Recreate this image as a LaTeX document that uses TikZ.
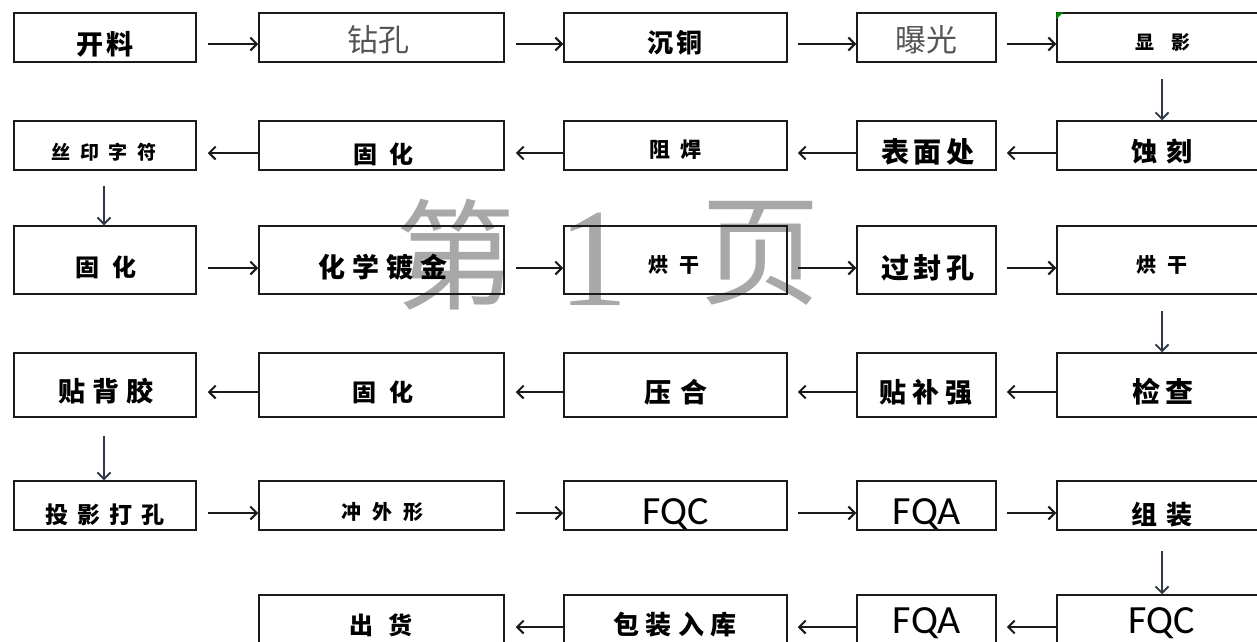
\documentclass[tikz,border=0pt]{standalone}
\usepackage{fontspec}
\setmainfont{Noto Sans CJK SC}
\newfontfamily\latfont{Carlito}
\newfontfamily\wmserif{Liberation Serif}
\usetikzlibrary{arrows.meta}
\newcommand\fsz[1]{\fontsize{#1}{#1}\selectfont}
\newcommand\cgap[1]{\hspace{#1em}}
\definecolor{linec}{HTML}{1A1A1A}
\definecolor{darrc}{HTML}{2E3A46}
\definecolor{wmgray}{HTML}{A8A8A8}
\definecolor{songgray}{HTML}{555555}
\tikzset{
  box/.style={draw=linec, line width=1.5pt, inner sep=0pt},
  txt/.style={inner sep=0pt, text=black, font=\bfseries},
  song/.style={inner sep=0pt, text=songgray, font=\mdseries},
  arr/.style={draw=linec, line width=2.1pt, -{Straight Barb[length=6.5pt,width=13pt,line width=2pt]}},
  darr/.style={draw=darrc, line width=1.9pt, -{Straight Barb[length=6.5pt,width=13pt,line width=1.9pt]}},
  wm/.style={inner sep=0pt, text=wmgray}
}
\begin{document}
\begin{tikzpicture}[x=1pt,y=-1pt]
\useasboundingbox (0,0) rectangle (1257,641);
\clip (0,0) rectangle (1257,641);
\fill[white] (0,0) rectangle (1257,641);

% watermark
\node[wm] (wm1) at (455,255) {\fsz{120}第};
\node[wm] (wm2) at (593,259) {\wmserif\fsz{140}1};
\node[wm] (wm3) at (760,253) {\fsz{120}页};

% row 1
\node[box, minimum width=182pt, minimum height=49pt] (b11) at (105,37.5) {};
\node[box, minimum width=245pt, minimum height=49pt] (b12) at (381.5,37.5) {};
\node[box, minimum width=223pt, minimum height=49pt] (b13) at (675.5,37.5) {};
\node[box, minimum width=139pt, minimum height=49pt] (b14) at (926.5,37.5) {};
\node[box, minimum width=210pt, minimum height=49pt] (b15) at (1162,37.5) {};
% row 2
\node[box, minimum width=182pt, minimum height=49pt] (b21) at (105,145.5) {};
\node[box, minimum width=245pt, minimum height=49pt] (b22) at (381.5,145.5) {};
\node[box, minimum width=223pt, minimum height=49pt] (b23) at (675.5,145.5) {};
\node[box, minimum width=139pt, minimum height=49pt] (b24) at (926.5,145.5) {};
\node[box, minimum width=210pt, minimum height=49pt] (b25) at (1162,145.5) {};
% row 3
\node[box, minimum width=182pt, minimum height=68pt] (b31) at (105,260) {};
\node[box, minimum width=245pt, minimum height=68pt] (b32) at (381.5,260) {};
\node[box, minimum width=223pt, minimum height=68pt] (b33) at (675.5,260) {};
\node[box, minimum width=139pt, minimum height=68pt] (b34) at (926.5,260) {};
\node[box, minimum width=210pt, minimum height=68pt] (b35) at (1162,260) {};
% row 4
\node[box, minimum width=182pt, minimum height=64pt] (b41) at (105,385) {};
\node[box, minimum width=245pt, minimum height=64pt] (b42) at (381.5,385) {};
\node[box, minimum width=223pt, minimum height=64pt] (b43) at (675.5,385) {};
\node[box, minimum width=139pt, minimum height=64pt] (b44) at (926.5,385) {};
\node[box, minimum width=210pt, minimum height=64pt] (b45) at (1162,385) {};
% row 5
\node[box, minimum width=182pt, minimum height=49pt] (b51) at (105,505.5) {};
\node[box, minimum width=245pt, minimum height=49pt] (b52) at (381.5,505.5) {};
\node[box, minimum width=223pt, minimum height=49pt] (b53) at (675.5,505.5) {};
\node[box, minimum width=139pt, minimum height=49pt] (b54) at (926.5,505.5) {};
\node[box, minimum width=210pt, minimum height=49pt] (b55) at (1162,505.5) {};
% row 6
\node[box, minimum width=245pt, minimum height=49pt] (b62) at (381.5,619.5) {};
\node[box, minimum width=223pt, minimum height=49pt] (b63) at (675.5,619.5) {};
\node[box, minimum width=139pt, minimum height=49pt] (b64) at (926.5,619.5) {};
\node[box, minimum width=210pt, minimum height=49pt] (b65) at (1162,619.5) {};

% small green corner mark
\fill[green!55!black] (b15.north west) -- ++(7,0) -- ++(-7,7) -- cycle;

% texts
\node[txt] (t11) at (105,44) {\fsz{27}开\cgap{0.12}料};
\node[song] (t12) at (378,40) {\fsz{31}钻孔};
\node[txt] (t13) at (675,43) {\fsz{26}沉\cgap{0.1}铜};
\node[song] (t14) at (926,40) {\fsz{31}曝光};
\node[txt] (t15) at (1163,42) {\fsz{19}显\cgap{0.85}影};

\node[txt] (t21) at (104,152) {\fsz{19}丝\cgap{0.5}印\cgap{0.5}字\cgap{0.5}符};
\node[txt] (t22) at (383,154) {\fsz{24}固\cgap{0.5}化};
\node[txt] (t23) at (675.5,150) {\fsz{21}阻\cgap{0.5}焊};
\node[txt] (t24) at (928,152) {\fsz{28}表\cgap{0.17}面\cgap{0.17}处};
\node[txt] (t25) at (1162,152) {\fsz{26}蚀\cgap{0.32}刻};

\node[txt] (t31) at (106,267) {\fsz{24}固\cgap{0.55}化};
\node[txt] (t32) at (383,267) {\fsz{27}化\cgap{0.25}学\cgap{0.25}镀\cgap{0.25}金};
\node[txt] (t33) at (674,265) {\fsz{20}烘\cgap{0.55}干};
\node[txt] (t34) at (928,268) {\fsz{28}过\cgap{0.17}封\cgap{0.17}孔};
\node[txt] (t35) at (1162,265) {\fsz{20}烘\cgap{0.55}干};

\node[txt] (t41) at (106,391) {\fsz{27}贴\cgap{0.25}背\cgap{0.25}胶};
\node[txt] (t42) at (383,392) {\fsz{24}固\cgap{0.55}化};
\node[txt] (t43) at (676,392) {\fsz{27}压\cgap{0.32}合};
\node[txt] (t44) at (926,392) {\fsz{27}贴\cgap{0.22}补\cgap{0.22}强};
\node[txt] (t45) at (1163,392) {\fsz{28}检\cgap{0.17}查};

\node[txt] (t51) at (105,515) {\fsz{23}投\cgap{0.38}影\cgap{0.38}打\cgap{0.38}孔};
\node[txt] (t52) at (382,512) {\fsz{20}冲\cgap{0.55}外\cgap{0.55}形};
\node[txt] (t53) at (676,514) {\latfont\mdseries\fsz{40}FQC};
\node[txt] (t54) at (927,514) {\latfont\mdseries\fsz{40}FQA};
\node[txt] (t55) at (1162,515) {\fsz{26}组\cgap{0.32}装};

\node[txt] (t62) at (381,625) {\fsz{24}出\cgap{0.65}货};
\node[txt] (t63) at (675,625) {\fsz{26}包\cgap{0.25}装\cgap{0.25}入\cgap{0.25}库};
\node[txt] (t64) at (927,623) {\latfont\mdseries\fsz{40}FQA};
\node[txt] (t65) at (1162,623) {\latfont\mdseries\fsz{40}FQC};

% row 1 arrows (right)
\draw[arr] ([xshift=11pt]b11.east |- 0,44) -- (b12.west |- 0,44);
\draw[arr] ([xshift=11pt]b12.east |- 0,44) -- (b13.west |- 0,44);
\draw[arr] ([xshift=10pt]b13.east |- 0,44) -- (b14.west |- 0,44);
\draw[arr] ([xshift=10pt]b14.east |- 0,44) -- (b15.west |- 0,44);
% row 2 arrows (left)
\draw[arr] (b22.west |- 0,153) -- ([xshift=11pt]b21.east |- 0,153);
\draw[arr] (b23.west |- 0,153) -- ([xshift=11pt]b22.east |- 0,153);
\draw[arr] (b24.west |- 0,153) -- ([xshift=10pt]b23.east |- 0,153);
\draw[arr] (b25.west |- 0,153) -- ([xshift=10pt]b24.east |- 0,153);
% row 3 arrows (right)
\draw[arr] ([xshift=11pt]b31.east |- 0,268) -- (b32.west |- 0,268);
\draw[arr] ([xshift=11pt]b32.east |- 0,268) -- (b33.west |- 0,268);
\draw[arr] ([xshift=10pt]b33.east |- 0,268) -- (b34.west |- 0,268);
\draw[arr] ([xshift=10pt]b34.east |- 0,268) -- (b35.west |- 0,268);
% row 4 arrows (left)
\draw[arr] (b42.west |- 0,392) -- ([xshift=11pt]b41.east |- 0,392);
\draw[arr] (b43.west |- 0,392) -- ([xshift=11pt]b42.east |- 0,392);
\draw[arr] (b44.west |- 0,392) -- ([xshift=10pt]b43.east |- 0,392);
\draw[arr] (b45.west |- 0,392) -- ([xshift=10pt]b44.east |- 0,392);
% row 5 arrows (right)
\draw[arr] ([xshift=11pt]b51.east |- 0,513) -- (b52.west |- 0,513);
\draw[arr] ([xshift=11pt]b52.east |- 0,513) -- (b53.west |- 0,513);
\draw[arr] ([xshift=10pt]b53.east |- 0,513) -- (b54.west |- 0,513);
\draw[arr] ([xshift=10pt]b54.east |- 0,513) -- (b55.west |- 0,513);
% row 6 arrows (left)
\draw[arr] (b63.west |- 0,627) -- ([xshift=11pt]b62.east |- 0,627);
\draw[arr] (b64.west |- 0,627) -- ([xshift=10pt]b63.east |- 0,627);
\draw[arr] (b65.west |- 0,627) -- ([xshift=10pt]b64.east |- 0,627);

% down arrows
\draw[darr] ([yshift=-16pt]b15.south) -- (b25.north);
\draw[darr] ([yshift=-15pt,xshift=-1pt]b21.south) -- ([xshift=-1pt]b31.north);
\draw[darr] ([yshift=-16pt]b35.south) -- (b45.north);
\draw[darr] ([yshift=-18pt,xshift=-1pt]b41.south) -- ([xshift=-1pt]b51.north);
\draw[darr] ([yshift=-20pt]b55.south) -- (b65.north);
\end{tikzpicture}
\end{document}
